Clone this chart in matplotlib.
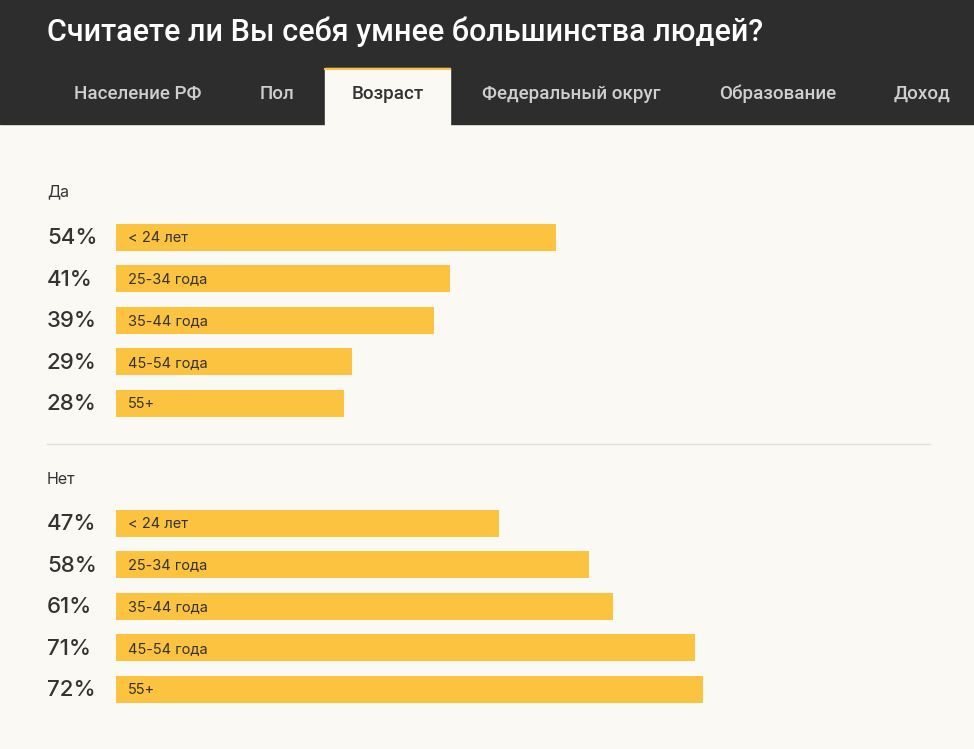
import matplotlib
matplotlib.use("Agg")
import matplotlib.pyplot as plt
from matplotlib.patches import Rectangle

title = "Считаете ли Вы себя умнее большинства людей?"
tabs = ["Население РФ", "Пол", "Возраст", "Федеральный округ", "Образование", "Доход"]
tab_x = [138, 277, 388, 571, 778, 922]
active_tab = "Возраст"

categories = ["< 24 лет", "25-34 года", "35-44 года", "45-54 года", "55+"]
groups = ["Да", "Нет"]
yes_values = [54, 41, 39, 29, 28]
no_values = [47, 58, 61, 71, 72]
series = [yes_values, no_values]

W, H = 974, 749
BG = "#faf9f4"
DARK = "#2d2d2d"
BAR = "#fcc340"
TXT = "#333333"

fig = plt.figure(figsize=(W / 100, H / 100), dpi=100, facecolor=BG)

# bars axes: x in percent, y in pixels
ax = fig.add_axes([116 / W, 0, 815 / W, 1])
ax.set_xlim(0, 100)
ax.set_ylim(H, 0)
ax.axis("off")
ax.set_zorder(1)

# overlay axes in pixel coordinates (on top)
ov = fig.add_axes([0, 0, 1, 1])
ov.set_xlim(0, W)
ov.set_ylim(H, 0)
ov.axis("off")
ov.set_zorder(2)
ov.add_patch(Rectangle((0, 0), W, 124, color=DARK, zorder=0))
ov.text(47, 32, title, color="white", fontsize=22, family="Roboto",
        va="center", ha="left", fontweight="medium")
# active tab
ov.add_patch(Rectangle((325, 68), 125, 57, color=BG, zorder=1))
ov.plot([325, 450], [68.5, 68.5], color=BAR, lw=1.5, zorder=2)
for t, x in zip(tabs, tab_x):
    ov.text(x, 94, t, color=(TXT if t == active_tab else "#cfcfcf"), fontsize=13.5,
            family="Roboto", ha="center", va="center", zorder=3,
            fontweight="medium")

# separator
ov.plot([47, 930], [444, 444], color="#e2e1dc", lw=1)

group_label_y = [192, 479]
first_row_y = [237, 523]
step = 41.6
for g, ly, fy, vals in zip(groups, group_label_y, first_row_y, series):
    ov.text(47, ly, g, fontsize=11.5, family="Inter", color=TXT, va="center", ha="left")
    ys = [fy + i * step for i in range(len(vals))]
    ax.barh(ys, vals, height=27, color=BAR, left=0)
    for y, v, c in zip(ys, vals, categories):
        ov.text(47, y + 1, f"{v}%", fontsize=16, family="Inter", color=TXT,
                va="center", ha="left", fontweight="medium")
        ov.text(128, y + 1, c, fontsize=10.5, family="Inter", color=TXT,
                va="center", ha="left")

fig.savefig("out.png", dpi=100, facecolor=BG)
